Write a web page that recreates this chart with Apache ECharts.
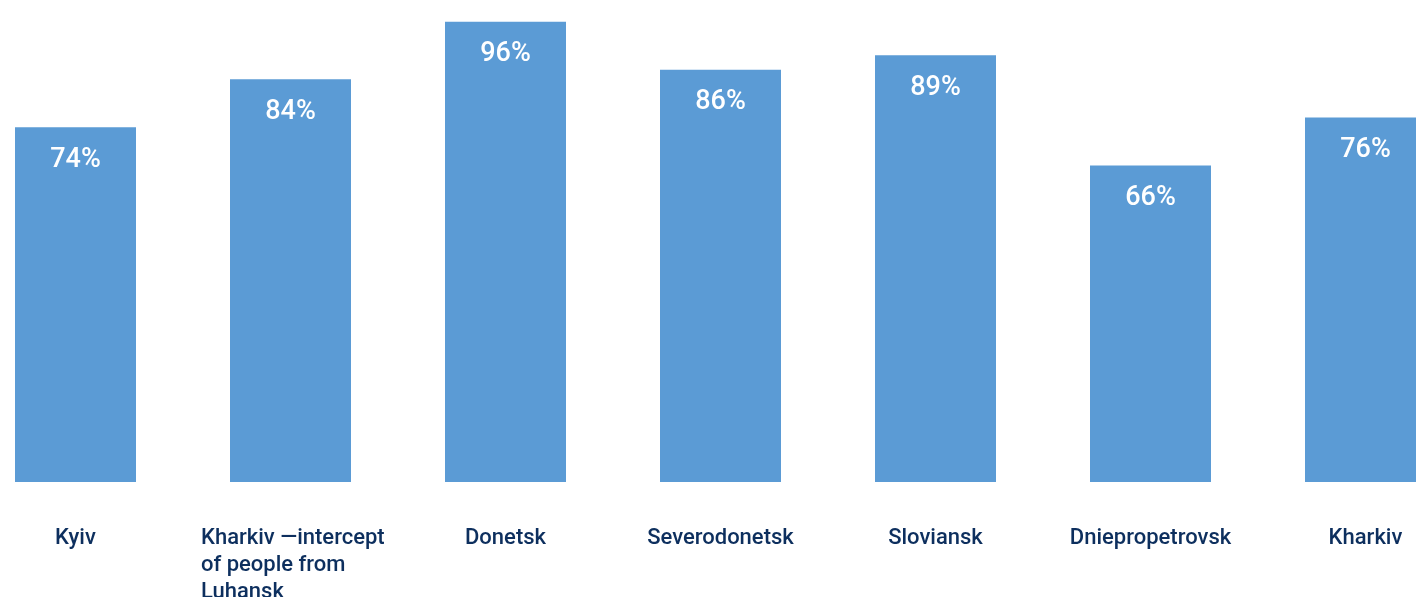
<!DOCTYPE html>
<html><head><meta charset="utf-8">
<script src="https://cdn.jsdelivr.net/npm/echarts@6/dist/echarts.min.js"></script>
<style>html,body{margin:0;padding:0;background:#fff}#c{width:1416px;height:597px}</style>
</head><body><div id="c"></div>
<script>
const categories = ['Kyiv', 'Kharkiv —intercept\nof people from\nLuhansk', 'Donetsk', 'Severodonetsk', 'Sloviansk', 'Dniepropetrovsk', 'Kharkiv'];
const values = [74, 84, 96, 86, 89, 66, 76];

const chart = echarts.init(document.getElementById('c'), null, {renderer: 'canvas'});
chart.setOption({
  animation: false,
  grid: {left: -32, right: -57, top: 2.5, bottom: 115, containLabel: false, outerBoundsMode: 'none'},
  xAxis: {
    type: 'category',
    data: categories.map(c => c.indexOf('\n') >= 0 ? {value: c, textStyle: {padding: [0, 0, 0, 18]}} : c),
    axisLine: {show: false}, axisTick: {show: false},
    axisLabel: {
      interval: 0, margin: 43, color: '#0d2f5e', fontFamily: 'Roboto', fontWeight: 500, fontSize: 22, lineHeight: 27,
      hideOverlap: false,
      formatter: function (v) {
        if (v.indexOf('\n') >= 0) return v.split('\n').map(s => '{l|' + s + '}').join('\n');
        return v;
      },
      rich: {l: {width: 197, align: 'left', fontFamily: 'Roboto', fontWeight: 500, fontSize: 22, lineHeight: 27, color: '#0d2f5e'}}
    }
  },
  yAxis: {type: 'value', min: 0, max: 100, show: false, splitLine: {show: false}},
  series: [{
    type: 'bar', data: values, barWidth: 121,
    itemStyle: {color: '#5b9bd5'},
    label: {show: true, position: 'insideTop', distance: 19, color: '#fff', fontFamily: 'Roboto', fontWeight: 500, fontSize: 27, lineHeight: 28, formatter: '{c}%'}
  }]
});
</script></body></html>
